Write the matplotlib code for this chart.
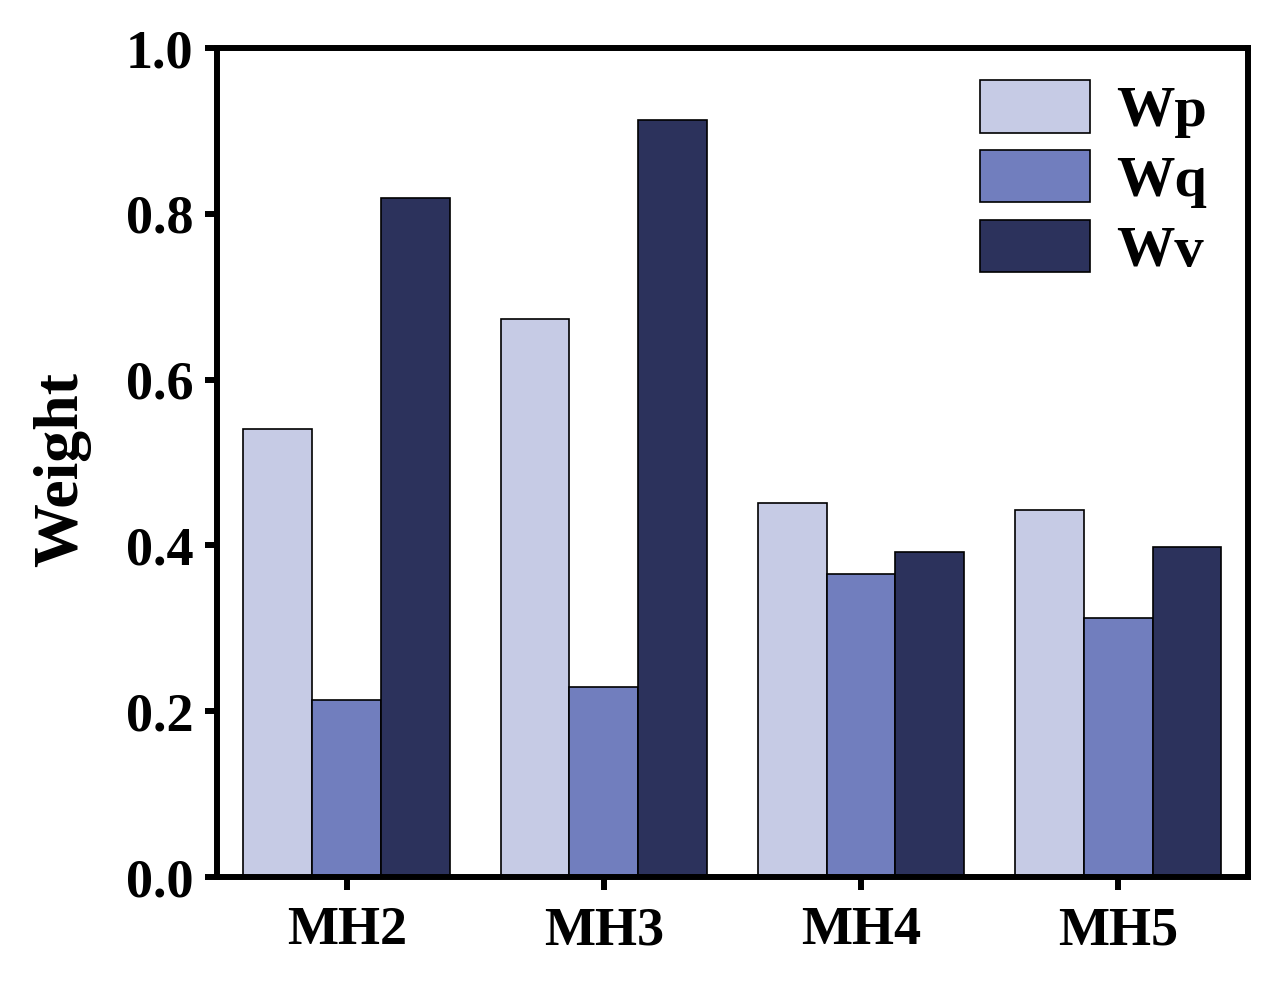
import matplotlib
matplotlib.use('Agg')
import matplotlib.pyplot as plt
import numpy as np

plt.rcParams['font.family'] = ['Liberation Serif', 'DejaVu Serif']
plt.rcParams['font.weight'] = 'bold'

categories = ['MH2', 'MH3', 'MH4', 'MH5']
series_names = ['Wp', 'Wq', 'Wv']
wp = [0.541, 0.673, 0.451, 0.443]
wq = [0.214, 0.229, 0.365, 0.312]
wv = [0.819, 0.913, 0.392, 0.398]
colors = ['#C6CBE5', '#717EBE', '#2C325C']

fig = plt.figure(figsize=(12.75, 9.81), dpi=100)
ax = fig.add_axes([0.170, 0.106, 0.809, 0.845])

x = np.arange(len(categories))
w = 0.268
for i, (vals, name, c) in enumerate(zip([wp, wq, wv], series_names, colors)):
    ax.bar(x + (i - 1) * w, vals, width=w, color=c, edgecolor='black',
           linewidth=1.2, label=name)

ax.set_xlim(-0.506, 3.506)
ax.set_ylim(0, 1.0)
ax.set_xticks(x)
ax.set_xticklabels(categories)
ax.set_yticks([0.0, 0.2, 0.4, 0.6, 0.8, 1.0])
ax.set_yticklabels(['0.0', '0.2', '0.4', '0.6', '0.8', '1.0'])
ax.tick_params(axis='both', labelsize=39, width=4.3, length=9, direction='out')
ax.tick_params(axis='x', pad=12)
ax.tick_params(axis='y', pad=8)
for s in ax.spines.values():
    s.set_linewidth(4.3)

fig.text(62 / 1275, 0.521, 'Weight', rotation=90, ha='center', va='center',
         fontsize=46, fontweight='bold')

ax.legend(loc='upper left', frameon=False, fontsize=42, handlelength=1.89,
          handleheight=1.0, labelspacing=0.2, handletextpad=0.45,
          borderpad=0, borderaxespad=0, bbox_to_anchor=(0.740, 0.961))

fig.savefig('out.png', dpi=100)
